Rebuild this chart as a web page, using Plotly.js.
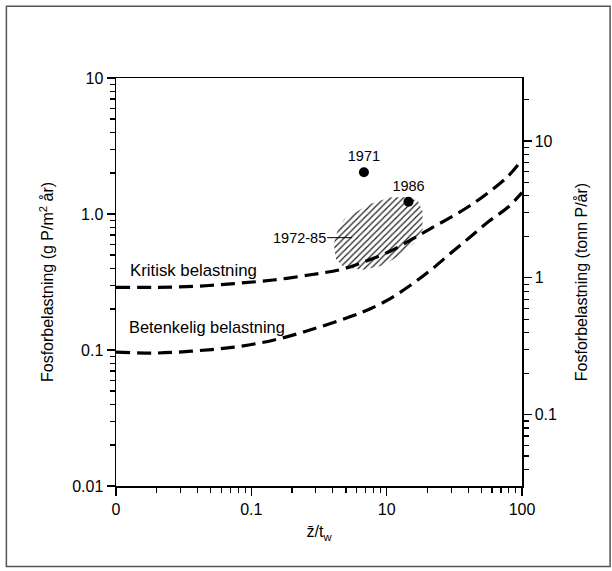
<!DOCTYPE html>
<html>
<head>
<meta charset="utf-8">
<script src="https://cdn.plot.ly/plotly-3.0.1.min.js"></script>
<style>html,body{margin:0;padding:0;background:#fff;}#chart{width:612px;height:571px;}</style>
</head>
<body>
<div id="chart"></div>
<script>
// ---- data ----
const kritiskX = [0.1, 0.197, 0.384, 0.746, 1.45, 2.82, 4.5, 6.28, 10.7, 15.9, 20.8, 29.0, 40.4, 56.4, 78.7, 100];
const kritiskY = [0.289, 0.289, 0.294, 0.308, 0.327, 0.359, 0.389, 0.432, 0.535, 0.664, 0.774, 0.933, 1.135, 1.435, 1.89, 2.5];
const betenkX = [0.1, 0.197, 0.384, 0.746, 1.45, 2.82, 5.48, 7.65, 10.7, 14.9, 20.8, 29.0, 40.4, 56.4, 78.7, 100];
const betenkY = [0.0966, 0.095, 0.0985, 0.105, 0.118, 0.142, 0.177, 0.202, 0.24, 0.298, 0.382, 0.504, 0.664, 0.877, 1.12, 1.435];
const areaX = [5.5, 7.65, 10.7, 13.95, 17.0, 18.4, 18.4, 15.9, 12.2, 9.35, 6.72, 4.81, 4.21, 4.07, 4.36, 4.81, 5.5];
const areaY = [0.991, 1.19, 1.33, 1.33, 1.25, 1.05, 0.774, 0.605, 0.488, 0.419, 0.389, 0.406, 0.468, 0.605, 0.774, 0.904, 0.991];
const pointLabels = ['1971', '1986'];
const pointX = [6.79, 14.5];
const pointY = [2.03, 1.23];
const areaLabel = '1972-85';
const areaLabelX = 5.56, areaLabelY = 0.67;
const xTickVals = [0.1, 1, 10, 100];
const xTickText = ['0', '0.1', '10', '100'];
const yTickVals = [0.01, 0.1, 1, 10];
const yTickText = ['0.01', '0.1', '1.0', '10'];
const y2TickVals = [0.1, 1, 10];
const y2TickText = ['0.1', '1', '10'];

function minorTicks(lo, hi) {
  const out = [];
  for (let e = -3; e <= 3; e++) {
    for (let k = 2; k <= 9; k++) {
      const v = k * Math.pow(10, e);
      if (v > lo && v < hi) out.push(v);
    }
  }
  return out;
}

const FONT = 'Liberation Sans, Arial, sans-serif';
const dashStyle = '14px,7px';

const traces = [
  {x: areaX, y: areaY, type: 'scatter', mode: 'lines', fill: 'toself',
   fillcolor: 'rgba(0,0,0,0)',
   fillpattern: {shape: '/', fgcolor: '#222', bgcolor: 'rgba(255,255,255,0)', size: 4.5, solidity: 0.28},
   line: {width: 0, color: 'rgba(0,0,0,0)'}, hoverinfo: 'skip', showlegend: false},
  {x: kritiskX, y: kritiskY, type: 'scatter', mode: 'lines', line: {color: '#000', width: 3.2, dash: dashStyle, shape: 'spline'}, showlegend: false},
  {x: betenkX, y: betenkY, type: 'scatter', mode: 'lines', line: {color: '#000', width: 3.2, dash: dashStyle, shape: 'spline'}, showlegend: false},
  {x: pointX, y: pointY, type: 'scatter', mode: 'markers+text', text: pointLabels, textposition: 'top center',
   textfont: {family: FONT, size: 14.5, color: '#000'}, marker: {color: '#000', size: 10}, showlegend: false},
  {x: [], y: [], type: 'scatter', yaxis: 'y2', showlegend: false}
];

const axisCommon = {
  showline: true, linecolor: '#000', linewidth: 1.5, showgrid: false, zeroline: false,
  ticks: 'outside', ticklen: 8, tickwidth: 1.2, tickcolor: '#000',
  tickfont: {family: FONT, size: 16, color: '#000'}
};

const layout = {
  width: 612, height: 571,
  margin: {l: 116, r: 90, t: 78, b: 85, pad: 0},
  paper_bgcolor: '#fff', plot_bgcolor: '#fff',
  font: {family: FONT, color: '#000'},
  showlegend: false,
  xaxis: Object.assign({}, axisCommon, {
    type: 'log', range: [-1, 2], tickmode: 'array', tickvals: xTickVals, ticktext: xTickText, mirror: true,
    minor: {tickmode: 'array', tickvals: minorTicks(0.1, 100), ticks: 'outside', ticklen: 5, tickcolor: '#000', tickwidth: 1.2},
    title: {text: 'z\u0304/t<sub>w</sub>', font: {family: FONT, size: 16, color: '#000'}, standoff: 9}
  }),
  yaxis: Object.assign({}, axisCommon, {
    type: 'log', range: [-2, 1], tickmode: 'array', tickvals: yTickVals, ticktext: yTickText,
    minor: {tickmode: 'array', tickvals: minorTicks(0.01, 10), ticks: 'outside', ticklen: 5, tickcolor: '#000', tickwidth: 1.2},
    title: {text: 'Fosforbelastning (g P/m<sup>2</sup> år)', font: {family: FONT, size: 16, color: '#000'}, standoff: 14}
  }),
  yaxis2: Object.assign({}, axisCommon, {
    type: 'log', range: [-1.52, 1.46], overlaying: 'y', side: 'right', tickmode: 'array', tickvals: y2TickVals, ticktext: y2TickText,
    minor: {tickmode: 'array', tickvals: minorTicks(0.03, 28), ticks: 'outside', ticklen: 5, tickcolor: '#000', tickwidth: 1.2},
    title: {text: 'Fosforbelastning (tonn P/år)', font: {family: FONT, size: 16, color: '#000'}, standoff: 20}
  }),
  annotations: [
    {x: Math.log10(areaLabelX), y: Math.log10(areaLabelY), xref: 'x', yref: 'y', text: areaLabel,
     showarrow: true, arrowhead: 0, arrowwidth: 1, arrowcolor: '#000', ax: -53, ay: 0,
     font: {family: FONT, size: 14.5, color: '#000'}},
    {x: 0.030, y: 0.527, xref: 'paper', yref: 'paper', xanchor: 'left', yanchor: 'middle', showarrow: false,
     text: 'Kritisk belastning', font: {family: FONT, size: 16.8, color: '#000'}},
    {x: 0.028, y: 0.389, xref: 'paper', yref: 'paper', xanchor: 'left', yanchor: 'middle', showarrow: false,
     text: 'Betenkelig belastning', font: {family: FONT, size: 16.4, color: '#000'}}
  ],
  shapes: [
    {type: 'rect', xref: 'paper', yref: 'paper', x0: -0.27, x1: 1.217, y0: -0.197, y1: 1.176,
     line: {color: '#555', width: 1.5}, fillcolor: 'rgba(0,0,0,0)', layer: 'below'}
  ]
};

Plotly.newPlot('chart', traces, layout, {staticPlot: true, displayModeBar: false});
</script>
</body>
</html>
